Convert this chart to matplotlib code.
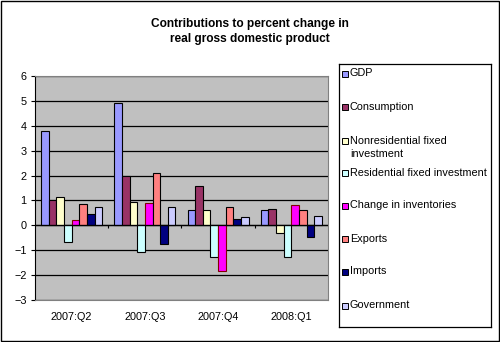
import numpy as np
import matplotlib
matplotlib.use("Agg")
import matplotlib.pyplot as plt
from matplotlib.patches import Rectangle

plt.rcParams['font.family'] = ['Liberation Sans', 'DejaVu Sans']

quarters = ['2007:Q2', '2007:Q3', '2007:Q4', '2008:Q1']
series = ['GDP', 'Consumption', 'Nonresidential fixed\ninvestment',
          'Residential fixed investment', 'Change in inventories',
          'Exports', 'Imports', 'Government']
colors = ['#9999FF', '#993366', '#FFFFCC', '#CCFFFF', '#FF00FF',
          '#FF8080', '#000080', '#CCCCFF']

gdp = [3.8, 4.9, 0.6, 0.6]
consumption = [1.0, 2.0, 1.58, 0.67]
nonres = [1.13, 0.95, 0.6, -0.3]
residential = [-0.65, -1.08, -1.27, -1.27]
inventories = [0.2, 0.9, -1.82, 0.8]
exports = [0.85, 2.1, 0.75, 0.63]
imports = [0.45, -0.73, 0.25, -0.46]
government = [0.75, 0.72, 0.35, 0.36]
values = [gdp, consumption, nonres, residential, inventories,
          exports, imports, government]

fig = plt.figure(figsize=(5, 3.42), dpi=100)
fig.patch.set_facecolor('white')
fig.add_artist(Rectangle((0.002, 0.003), 0.995, 0.994, transform=fig.transFigure,
                         fill=False, edgecolor='black', linewidth=1))

ax = fig.add_axes([35 / 500, 1 - 300 / 342, 293 / 500, 224 / 342])
ax.set_facecolor('#C0C0C0')

x = np.arange(len(quarters))
w = 1 / 9.6
for i, (vals, c) in enumerate(zip(values, colors)):
    edge = '#800000' if c == '#FF00FF' else 'black'
    ax.bar(x + (i - 3.5) * w, vals, w, color=c, edgecolor=edge, linewidth=0.8, zorder=3)

ax.set_xlim(-0.5, 3.5)
ax.set_ylim(-3, 6)
ax.set_yticks(range(-3, 7))
ax.yaxis.grid(True, color='black', linewidth=0.9, zorder=1)
ax.set_axisbelow(True)
ax.axhline(0, color='black', linewidth=0.9, zorder=4)
ax.vlines([0.5, 1.5, 2.5], -0.1, 0, color='black', linewidth=0.8, zorder=4)

ax.set_xticks(x)
ax.set_xticklabels(quarters)
ax.tick_params(axis='x', length=0, pad=9, labelsize=7.8)
ax.tick_params(axis='y', length=3, width=0.8, pad=3, labelsize=7.8)
for s in ['top', 'right', 'bottom']:
    ax.spines[s].set_color('#808080')
ax.spines['left'].set_color('black')

fig.text(0.5, 1 - 31.5 / 342, 'Contributions to percent change in\nreal gross domestic product',
         ha='center', va='center', fontsize=8.6, fontweight='bold', linespacing=1.3)

# legend drawn by hand in pixel units
lax = fig.add_axes([339 / 500, 1 - 327 / 342, 152 / 500, 263 / 342])
lax.set_xlim(0, 152)
lax.set_ylim(263, 0)
lax.set_xticks([])
lax.set_yticks([])
for s in lax.spines.values():
    s.set_color('black')
    s.set_linewidth(0.9)
rows = [10, 43, 77, 109, 142, 175, 208, 242]
for name, c, y in zip(series, colors, rows):
    lax.add_patch(Rectangle((3, y - 3), 6, 6, facecolor=c, edgecolor='black', linewidth=0.7))
    if '\n' in name:
        lax.text(11, y - 5.5, name, va='top', fontsize=7.8, linespacing=1.4)
    else:
        lax.text(11, y - 0.5, name, va='center', fontsize=7.8)

fig.savefig('out.png', dpi=100)
